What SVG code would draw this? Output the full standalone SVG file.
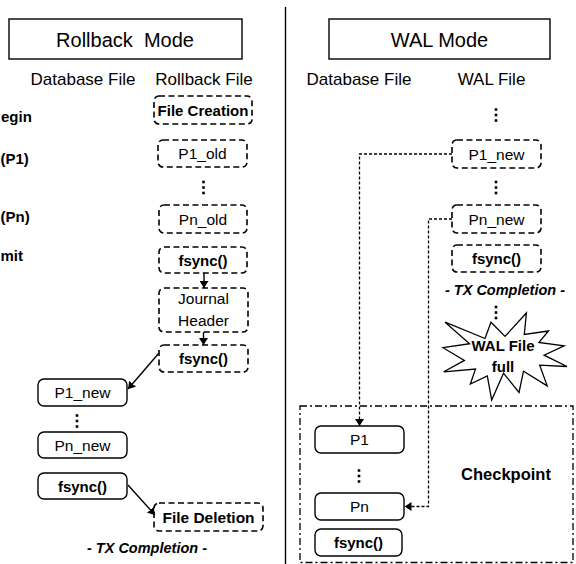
<svg xmlns="http://www.w3.org/2000/svg" width="576" height="564" viewBox="0 0 576 564">
<defs>
<style>
.sb{fill:#fff;stroke:#000;stroke-width:1.4}
.db{fill:#fff;stroke:#000;stroke-width:1.6;stroke-dasharray:6 3.5}
.t{font-family:"Liberation Sans",Arial,sans-serif;font-size:15.5px;text-anchor:middle;dominant-baseline:central;fill:#000}
.h{font-size:17px}
.ti{font-size:20px}
.b{font-weight:bold;font-size:15px}
.bi{font-weight:bold;font-style:italic;font-size:14.5px}
.lab{font-weight:bold;font-size:15px;text-anchor:start}
.dot{fill:#000}
.sl{fill:none;stroke:#000;stroke-width:1.4}
.dl{fill:none;stroke:#000;stroke-width:1.3;stroke-dasharray:3 2}
</style>
<marker id="ah" viewBox="0 0 7 9" refX="7" refY="4.5" markerWidth="7" markerHeight="9" markerUnits="userSpaceOnUse" orient="auto">
<path d="M0,0 L7,4.5 L0,9 Z" fill="#000"/>
</marker>
<g id="vd">
<rect x="-1.3" y="-6.8" width="2.6" height="2.6"/>
<rect x="-1.3" y="-1.3" width="2.6" height="2.6"/>
<rect x="-1.3" y="4.2" width="2.6" height="2.6"/>
</g>
</defs>
<rect width="576" height="564" fill="#fff"/>
<line x1="285.5" y1="7" x2="285.5" y2="564" stroke="#000" stroke-width="1.4"/>

<g id="row-labels">
<text class="t lab" x="1" y="116">egin</text>
<text class="t lab" x="0.5" y="158">(P1)</text>
<text class="t lab" x="0.5" y="216">(Pn)</text>
<text class="t lab" x="0.5" y="255">mit</text>
</g>

<g id="rollback-title"><rect x="9" y="19" width="233" height="40" fill="#fff" stroke="#000" stroke-width="1.4"/><text class="t ti" x="125" y="40" xml:space="preserve">Rollback  Mode</text></g>
<g id="rb-db-header"><text class="t h" x="83" y="79.5">Database File</text></g>
<g id="rb-file-header"><text class="t h" x="204" y="79.5">Rollback File</text></g>
<g id="file-creation"><rect class="db" x="154" y="96" width="98" height="28" rx="5"/><text class="t b" x="203" y="110">File Creation</text></g>
<g id="p1-old"><rect class="db" x="158" y="140" width="89" height="27" rx="5"/><text class="t" x="202.5" y="153.5">P1_old</text></g>
<g id="rb-dots1" class="dot"><use href="#vd" x="203.5" y="187.5"/></g>
<g id="pn-old"><rect class="db" x="159" y="205" width="88" height="28" rx="5"/><text class="t" x="203" y="219">Pn_old</text></g>
<g id="rb-fsync1"><rect class="db" x="159" y="247" width="88" height="26" rx="5"/><text class="t b" x="203" y="260">fsync()</text></g>
<g id="journal-header"><rect class="db" x="159" y="288" width="89" height="44" rx="5"/><text class="t" x="203.5" y="298.5">Journal</text><text class="t" x="203.5" y="320">Header</text></g>
<g id="rb-fsync2"><rect class="db" x="159" y="345" width="89" height="27" rx="5"/><text class="t b" x="203.5" y="358.5">fsync()</text></g>
<g id="p1-new-db"><rect class="sb" x="38" y="379" width="89" height="27" rx="6"/><text class="t" x="82.5" y="392.5">P1_new</text></g>
<g id="rb-dots2" class="dot"><use href="#vd" x="77" y="421"/></g>
<g id="pn-new-db"><rect class="sb" x="38" y="432" width="89" height="26" rx="6"/><text class="t" x="82.5" y="445">Pn_new</text></g>
<g id="rb-fsync3"><rect class="sb" x="38" y="473" width="89" height="26" rx="6"/><text class="t b" x="82.5" y="486">fsync()</text></g>
<g id="file-deletion"><rect class="db" x="154" y="503" width="109" height="28" rx="5"/><text class="t b" x="208.5" y="517" style="font-size:15.5px">File Deletion</text></g>
<g id="rb-tx-completion"><text class="t bi" x="147" y="548">- TX Completion -</text></g>

<g id="wal-title"><rect x="329" y="19" width="221" height="40" fill="#fff" stroke="#000" stroke-width="1.4"/><text class="t ti" x="439.5" y="40">WAL Mode</text></g>
<g id="wal-db-header"><text class="t h" x="359" y="79.5">Database File</text></g>
<g id="wal-file-header"><text class="t h" x="491.5" y="79.5">WAL File</text></g>
<g id="wal-dots1" class="dot"><use href="#vd" x="496" y="115"/></g>
<g id="wal-p1-new"><rect class="db" x="452" y="140" width="89" height="28" rx="5"/><text class="t" x="496.5" y="154">P1_new</text></g>
<g id="wal-dots2" class="dot"><use href="#vd" x="496" y="187.5"/></g>
<g id="wal-pn-new"><rect class="db" x="452" y="205" width="89" height="28" rx="5"/><text class="t" x="496.5" y="219">Pn_new</text></g>
<g id="wal-fsync"><rect class="db" x="452" y="245" width="89" height="27" rx="5"/><text class="t b" x="496.5" y="258.5">fsync()</text></g>
<g id="wal-tx-completion"><text class="t bi" x="505" y="290">- TX Completion -</text></g>
<g id="wal-dots3" class="dot"><use href="#vd" x="496" y="312.5"/></g>
<g id="wal-full">
<path d="M505,336.4 L526.4,313 L524.3,334.4 L548.5,331 L538.9,342.5 L564.1,345.8 L544.1,355.2 L567,366.5 L539.7,365.1 L547.2,385.9 L523.5,371.2 L519,392.5 L503.5,373.2 L491.7,400 L487.3,375.9 L470.3,384 L475.5,369.1 L443.8,371.8 L464.4,360.4 L443,347.7 L469.6,343.7 L445.1,322.2 L485,338.5 L491,322.2 Z" fill="#fff" stroke="#000" stroke-width="1.3" stroke-linejoin="miter"/>
<text class="t b" x="503" y="345">WAL File</text>
<text class="t b" x="503" y="366">full</text>
</g>
<g id="checkpoint">
<rect x="300" y="406" width="273" height="156.5" fill="none" stroke="#000" stroke-width="1.3" stroke-dasharray="7 3 2 3"/>
<text class="t b" x="506" y="474" style="font-size:16.5px">Checkpoint</text>
</g>
<g id="cp-p1"><rect class="sb" x="315" y="426" width="89" height="27" rx="6"/><text class="t" x="359.5" y="439.5">P1</text></g>
<g id="cp-dots" class="dot"><use href="#vd" x="359" y="476"/></g>
<g id="cp-pn"><rect class="sb" x="315" y="493" width="89" height="27" rx="6"/><text class="t" x="359.5" y="506.5">Pn</text></g>
<g id="cp-fsync"><rect class="sb" x="315" y="529" width="87" height="27" rx="6"/><text class="t b" x="358.5" y="542.5">fsync()</text></g>

<g id="connectors">
<line class="sl" x1="204" y1="273" x2="204" y2="288" marker-end="url(#ah)"/>
<line class="sl" x1="203.5" y1="332" x2="203.5" y2="345" marker-end="url(#ah)"/>
<line class="sl" x1="159" y1="353" x2="128" y2="389" marker-end="url(#ah)"/>
<line class="sl" x1="128" y1="485" x2="155" y2="515" marker-end="url(#ah)"/>
<path class="dl" d="M452,154 H359.5 V426" marker-end="url(#ah)"/>
<path class="dl" d="M452,219 H428.5 V506.5 H404.5" marker-end="url(#ah)"/>
</g>
</svg>
